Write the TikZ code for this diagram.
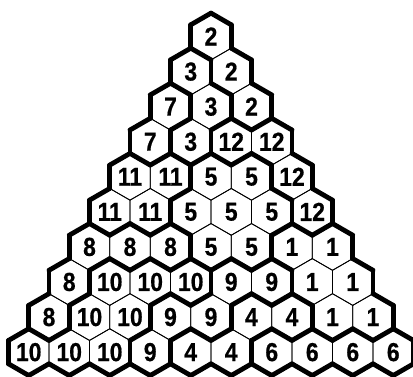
\documentclass[tikz,border=0pt]{standalone}
\usepackage{fontspec}
\setmainfont{Liberation Sans}
\newfontfamily\numfont[FakeStretch=0.88, BoldFont={Liberation Sans Bold}, FakeBold=0.6]{Liberation Sans Bold}

% cell values, row by row (row r has r cells)
\def\cellvals{{2, 3,2, 7,3,2, 7,3,12,12, 11,11,5,5,12, 11,11,5,5,5,12,
  8,8,8,5,5,1,1, 8,10,10,10,9,9,1,1, 8,10,10,9,9,4,4,1,1,
  10,10,10,9,4,4,6,6,6,6}}
\def\hs{23.38}  % hexagon side
\def\hw{40.5}   % hexagon width
\def\hdy{35.07} % row distance

% thick side of cell #1 between corner angles #2 and #3
\newcommand{\wall}[3]{\draw[wallline] ([shift={(#2:\hs)}]#1.center) -- ([shift={(#3:\hs)}]#1.center);}

\begin{document}
\begin{tikzpicture}[x=1pt, y=1pt,
    num/.style={font=\fontsize{26}{26}\numfont\selectfont, inner sep=0pt},
    cellline/.style={line width=0.8pt},
    wallline/.style={line width=4.8pt, line cap=round, line join=round}
]
    \useasboundingbox (0,0) rectangle (413,376);

    % Cells
    \foreach \r in {1,...,10} {
        \foreach \c in {1,...,\r} {
            \pgfmathtruncatemacro\idx{\r*(\r-1)/2+\c-1}
            \pgfmathtruncatemacro\val{\cellvals[\idx]}
            \node[num] (h-\r-\c) at ({211+(\c-(\r+1)/2)*\hw}, {339.5-(\r-1)*\hdy}) {\val};
            \draw[cellline] (h-\r-\c.center) ++(90:\hs) -- ++(-30:\hs) -- ++(-90:\hs)
                -- ++(-150:\hs) -- ++(150:\hs) -- ++(90:\hs) -- cycle;
        }
    }

    % Region walls
    \foreach \r in {1,...,10} {
        \foreach \c in {1,...,\r} {
            \pgfmathtruncatemacro\idx{\r*(\r-1)/2+\c-1}
            \pgfmathtruncatemacro\val{\cellvals[\idx]}
            % right neighbour
            \ifnum\c<\r
                \pgfmathtruncatemacro\nxt{\cellvals[\idx+1]}
                \ifnum\nxt=\val\else \wall{h-\r-\c}{30}{-30}\fi
            \else
                \wall{h-\r-\c}{90}{30}
                \wall{h-\r-\c}{30}{-30}
            \fi
            % left border
            \ifnum\c=1
                \wall{h-\r-\c}{90}{150}
                \wall{h-\r-\c}{150}{210}
            \fi
            % neighbours below
            \ifnum\r<10
                \pgfmathtruncatemacro\dl{\cellvals[\idx+\r]}
                \pgfmathtruncatemacro\dr{\cellvals[\idx+\r+1]}
                \ifnum\dl=\val\else \wall{h-\r-\c}{-90}{210}\fi
                \ifnum\dr=\val\else \wall{h-\r-\c}{-30}{-90}\fi
            \else
                \wall{h-\r-\c}{-90}{210}
                \wall{h-\r-\c}{-30}{-90}
            \fi
        }
    }
\end{tikzpicture}
\end{document}
